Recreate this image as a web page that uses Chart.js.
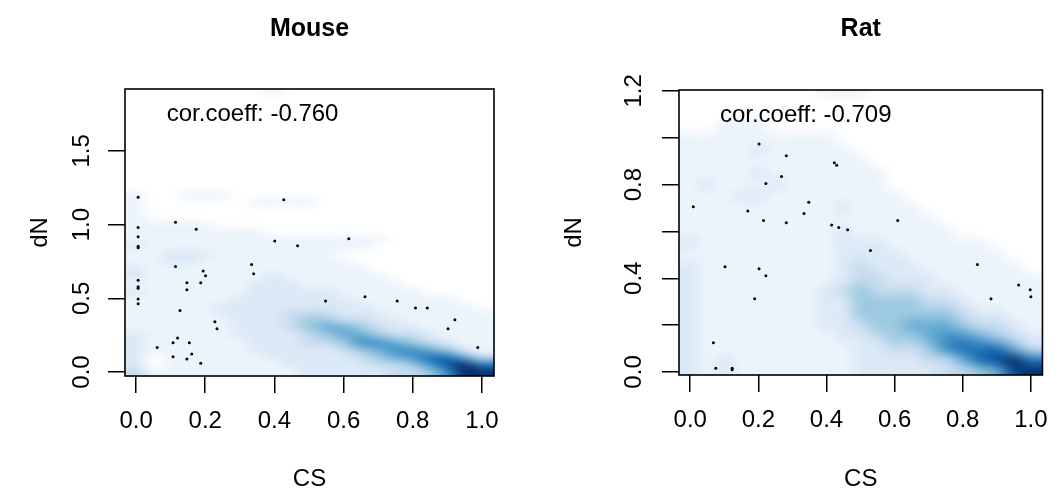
<!DOCTYPE html>
<html>
<head>
<meta charset="utf-8">
<script src="https://cdn.jsdelivr.net/npm/chart.js@4.4.1/dist/chart.umd.min.js"></script>
<style>
  html, body { margin: 0; padding: 0; background: #fff; }
  #wrap { position: relative; width: 1062px; height: 497px; }
  canvas { position: absolute; top: 0; }
</style>
</head>
<body>
<div id="wrap">
  <canvas id="mouse" width="531" height="497" style="left:0"></canvas>
  <canvas id="rat" width="531" height="497" style="left:531px"></canvas>
</div>
<script>
const FONT = '"Liberation Sans", Arial, Helvetica, sans-serif';

// axis ticks
const csTicks = [0, 0.2, 0.4, 0.6, 0.8, 1.0];
const mouseDnTicks = [0, 0.5, 1.0, 1.5];
const mouseDnLabels = ["0.0", "0.5", "1.0", "1.5"];
const ratDnTicks = [0, 0.2, 0.4, 0.6, 0.8, 1.0, 1.2];
const ratDnLabels = ["0.0", "", "0.4", "", "0.8", "", "1.2"];

// outlying points (smoothScatter draws these as dots)
const mouseCS = [0.006, 0.006, 0.006, 0.006, 0.006, 0.006, 0.006, 0.006, 0.006, 0.006,
  0.114, 0.174, 0.114, 0.194, 0.201, 0.147, 0.187, 0.147, 0.127, 0.228, 0.234, 0.061,
  0.120, 0.107, 0.154, 0.107, 0.161, 0.147, 0.187, 0.334, 0.340, 0.401, 0.427, 0.467,
  0.615, 0.548, 0.662, 0.755, 0.808, 0.842, 0.922, 0.902, 0.988];
const mouseDN = [1.185, 0.980, 0.918, 0.853, 0.843, 0.622, 0.579, 0.568, 0.495, 0.463,
  1.016, 0.968, 0.715, 0.685, 0.653, 0.606, 0.606, 0.558, 0.418, 0.341, 0.294, 0.167,
  0.230, 0.199, 0.199, 0.104, 0.122, 0.088, 0.059, 0.730, 0.667, 0.889, 1.169, 0.857,
  0.904, 0.482, 0.511, 0.482, 0.434, 0.434, 0.355, 0.294, 0.167];

const ratCS = [0.009, 0.202, 0.282, 0.423, 0.430, 0.268, 0.222, 0.348, 0.169, 0.334,
  0.215, 0.282, 0.415, 0.436, 0.462, 0.102, 0.202, 0.222, 0.189, 0.068, 0.075, 0.123,
  0.123, 0.609, 0.529, 0.843, 0.964, 0.998, 1.000, 0.883];
const ratDN = [0.705, 0.973, 0.923, 0.893, 0.883, 0.835, 0.805, 0.725, 0.687, 0.677,
  0.647, 0.637, 0.627, 0.617, 0.607, 0.449, 0.441, 0.411, 0.313, 0.125, 0.016, 0.016,
  0.009, 0.647, 0.519, 0.459, 0.371, 0.351, 0.321, 0.313];

// smoothed density, read by eye: columns CS 0.00..1.00 step 0.05,
// rows dN from the top value downwards in 0.05 steps, level 0 (white) .. 9 (darkest)
const densityCS = [0, 0.05, 0.1, 0.15, 0.2, 0.25, 0.3, 0.35, 0.4, 0.45, 0.5,
  0.55, 0.6, 0.65, 0.7, 0.75, 0.8, 0.85, 0.9, 0.95, 1.0];
const mouseDensityTop = 1.9;
const mouseDensity = [
  "000000001000000000000",
  "000000000000000000000",
  "000000000000000000000",
  "000000000000000000000",
  "000000000000000000000",
  "000000000000000000000",
  "000000000000000000000",
  "000000000000000000000",
  "000000000000000000000",
  "000000000000000000000",
  "000000000000000000000",
  "000000000000000000000",
  "000000000000000000000",
  "000000000000000000000",
  "100111000000000000000",
  "100000011110000000000",
  "100000000000000000000",
  "100000000000000000000",
  "111110000000000000000",
  "111111110000000000000",
  "111111111111111000000",
  "211111111111110000000",
  "112221111111000000000",
  "112211111111100000000",
  "211111111111110000000",
  "211111112111111000000",
  "111111122211111100000",
  "211111122222111110000",
  "111111222222211111100",
  "111112222222221111110",
  "111112222333222111111",
  "111111222344332211111",
  "111111222345543221111",
  "211111222234554332111",
  "211111122233466543211",
  "211111122222345665421",
  "201111112222234567753",
  "201111111222223346897",
  "311111111122222334699"
];
const ratDensityTop = 1.2;
const ratDensity = [
  "000000001110000000000",
  "000000000000000000000",
  "000000000000000000000",
  "001110000000000000000",
  "111111111000000000000",
  "111121111100000000000",
  "111111111110000000000",
  "111121111111000000000",
  "121112111111000000000",
  "111221111111100000000",
  "111111111211110000000",
  "111111111111111000000",
  "111111111211111100000",
  "211111111222111111000",
  "111111111222211111100",
  "211111111232221111110",
  "211111111233222111111",
  "211111112343332211111",
  "211111112244443321111",
  "211111112244444432211",
  "211111112234455543321",
  "211111111223445665432",
  "211111111122334677753",
  "212111111122223357897",
  "212111111122222334589"
];

// R colorRampPalette(c("white", blues9)); digit -> position on that ramp
const blues = ["#FFFFFF", "#F7FBFF", "#DEEBF7", "#C6DBEF", "#9ECAE1",
  "#6BAED6", "#4292C6", "#2171B5", "#08519C", "#08306B"];
const levelPos = [0, 1.45, 2.1, 3, 4, 5, 6, 7, 8, 9];

function hexRgb(h) {
  return [parseInt(h.slice(1, 3), 16), parseInt(h.slice(3, 5), 16), parseInt(h.slice(5, 7), 16)];
}

function rampColor(pos) {
  const i = Math.min(blues.length - 2, Math.floor(pos));
  const f = pos - i;
  const a = hexRgb(blues[i]), b = hexRgb(blues[i + 1]);
  return a.map((v, k) => Math.round(v + (b[k] - v) * f));
}

const panelPlugin = {
  id: "panel",
  beforeDatasetsDraw(chart, args, opts) {
    const { ctx, chartArea: a, scales: { x, y } } = chart;
    const rows = opts.grid;
    const nr = rows.length, nc = densityCS.length, step = 0.05;
    const off = document.createElement("canvas");
    off.width = nc + 2;
    off.height = nr + 2;
    const octx = off.getContext("2d");
    const img = octx.createImageData(nc + 2, nr + 2);
    for (let r = 0; r < nr + 2; r++) {
      for (let c = 0; c < nc + 2; c++) {
        const rr = Math.min(nr - 1, Math.max(0, r - 1));
        const cc = Math.min(nc - 1, Math.max(0, c - 1));
        const col = rampColor(levelPos[+rows[rr][cc] || 0]);
        const i = (r * (nc + 2) + c) * 4;
        img.data[i] = col[0]; img.data[i + 1] = col[1]; img.data[i + 2] = col[2]; img.data[i + 3] = 255;
      }
    }
    octx.putImageData(img, 0, 0);
    const x0 = x.getPixelForValue(densityCS[0] - 1.5 * step);
    const x1 = x.getPixelForValue(densityCS[nc - 1] + 1.5 * step);
    const y0 = y.getPixelForValue(opts.top + 1.5 * step);
    const y1 = y.getPixelForValue(opts.top - (nr - 1) * step - 1.5 * step);
    ctx.save();
    ctx.beginPath();
    ctx.rect(a.left, a.top, a.right - a.left, a.bottom - a.top);
    ctx.clip();
    ctx.imageSmoothingEnabled = true;
    ctx.imageSmoothingQuality = "high";
    ctx.filter = "blur(3px)";
    ctx.drawImage(off, x0, y0, x1 - x0, y1 - y0);
    ctx.restore();
  },
  afterDraw(chart, args, opts) {
    const { ctx, chartArea: a, scales: { x, y } } = chart;
    ctx.save();
    // box
    ctx.strokeStyle = "#000";
    ctx.lineWidth = 1.6;
    ctx.strokeRect(a.left, a.top, a.right - a.left, a.bottom - a.top);
    ctx.fillStyle = "#000";
    // rotated y tick labels
    ctx.font = `24px ${FONT}`;
    ctx.textAlign = "center";
    ctx.textBaseline = "middle";
    opts.yTicks.forEach((v, i) => {
      const label = opts.yLabels[i];
      if (!label) return;
      ctx.save();
      ctx.translate(opts.labelX, y.getPixelForValue(v));
      ctx.rotate(-Math.PI / 2);
      ctx.fillText(label, 0, 0);
      ctx.restore();
    });
    // correlation note
    ctx.fillText(opts.note, x.getPixelForValue(opts.noteAt[0]), y.getPixelForValue(opts.noteAt[1]));
    // main title
    ctx.font = `bold 25px ${FONT}`;
    ctx.fillText(opts.title, (a.left + a.right) / 2, 29);
    ctx.restore();
  }
};

function makePanel(id, p) {
  return new Chart(document.getElementById(id), {
    type: "scatter",
    data: {
      datasets: [{
        data: p.cs.map((v, i) => ({ x: v, y: p.dn[i] })),
        pointRadius: 1.5,
        pointBackgroundColor: "#000",
        pointBorderWidth: 0
      }]
    },
    options: {
      responsive: false,
      animation: false,
      layout: { padding: { left: 0, right: p.padRight, top: p.padTop, bottom: 0 } },
      plugins: {
        legend: { display: false },
        tooltip: { enabled: false },
        panel: {
          grid: p.grid, top: p.gridTop, title: p.title, note: p.note, noteAt: p.noteAt,
          yTicks: p.yTicks, yLabels: p.yLabels, labelX: p.labelX
        }
      },
      scales: {
        x: {
          type: "linear",
          min: p.xMin, max: p.xMax,
          afterBuildTicks: s => { s.ticks = csTicks.map(v => ({ value: v })); },
          afterFit: s => { s.height = p.xHeight; },
          ticks: {
            font: { family: FONT, size: 24, lineHeight: 1.2 },
            color: "#000", padding: 14, maxRotation: 0, autoSkip: false,
            callback: v => Number(v).toFixed(1)
          },
          grid: { drawOnChartArea: false, tickLength: 17, color: "#000", lineWidth: 1.5 },
          border: { display: false },
          title: {
            display: true, text: "CS", color: "#000",
            font: { family: FONT, size: 24, lineHeight: 1.2 },
            padding: { top: 0, bottom: 3 }
          }
        },
        y: {
          type: "linear",
          min: p.yMin, max: p.yMax,
          afterBuildTicks: s => { s.ticks = p.yTicks.map(v => ({ value: v })); },
          afterFit: s => { s.width = p.yWidth; },
          ticks: { display: false },
          grid: { drawOnChartArea: false, tickLength: 17, color: "#000", lineWidth: 1.5 },
          border: { display: false },
          title: {
            display: true, text: "dN", color: "#000",
            font: { family: FONT, size: 24, lineHeight: 1.2 },
            padding: { top: p.dnPad, bottom: 0 }
          }
        }
      }
    },
    plugins: [panelPlugin]
  });
}

makePanel("mouse", {
  cs: mouseCS, dn: mouseDN, grid: mouseDensity, gridTop: mouseDensityTop,
  title: "Mouse", note: "cor.coeff: -0.760", noteAt: [0.337, 1.745],
  yTicks: mouseDnTicks, yLabels: mouseDnLabels,
  xMin: -0.032, xMax: 1.035, yMin: -0.027, yMax: 1.92,
  padRight: 37, padTop: 89, xHeight: 121, yWidth: 125, labelX: 82, dnPad: 26
});

makePanel("rat", {
  cs: ratCS, dn: ratDN, grid: ratDensity, gridTop: ratDensityTop,
  title: "Rat", note: "cor.coeff: -0.709", noteAt: [0.339, 1.096],
  yTicks: ratDnTicks, yLabels: ratDnLabels,
  xMin: -0.033, xMax: 1.034, yMin: -0.013, yMax: 1.204,
  padRight: 14, padTop: 90, xHeight: 122, yWidth: 148, labelX: 103, dnPad: 29
});
</script>
</body>
</html>
